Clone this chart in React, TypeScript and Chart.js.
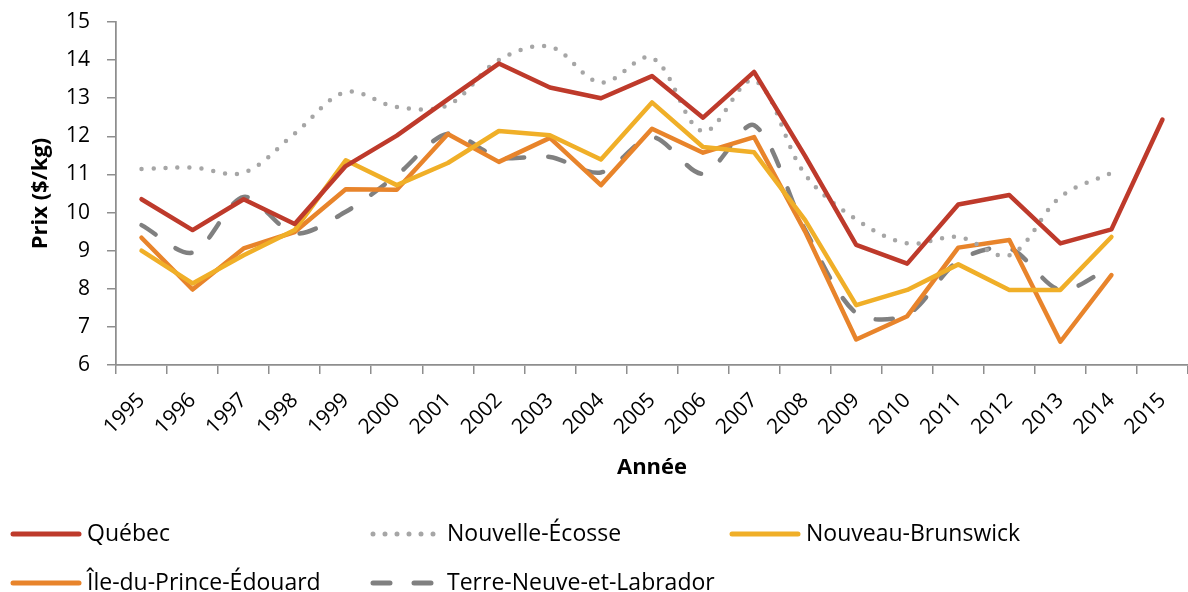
import React, { useEffect, useRef } from "react";
import { Chart, registerables } from "chart.js";

Chart.register(...registerables);

const years = ["1995", "1996", "1997", "1998", "1999", "2000", "2001", "2002", "2003", "2004", "2005", "2006", "2007", "2008", "2009", "2010", "2011", "2012", "2013", "2014", "2015"];

const quebec = [10.35, 9.54, 10.35, 9.7, 11.22, 12.02, 12.97, 13.91, 13.28, 13.0, 13.58, 12.49, 13.69, 11.48, 9.15, 8.66, 10.21, 10.46, 9.19, 9.56, 12.44];
const nouvelleEcosse = [11.14, 11.18, 11.05, 12.07, 13.16, 12.77, 12.82, 14.0, 14.35, 13.41, 14.06, 12.13, 13.47, 11.0, 9.82, 9.19, 9.36, 8.88, 10.41, 11.04, null];
const nouveauBrunswick = [9.0, 8.14, 8.88, 9.54, 11.37, 10.72, 11.3, 12.14, 12.03, 11.39, 12.89, 11.72, 11.58, 9.8, 7.57, 7.97, 8.64, 7.97, 7.97, 9.36, null];
const ilePrinceEdouard = [9.34, 7.98, 9.06, 9.49, 10.61, 10.6, 12.06, 11.33, 11.96, 10.72, 12.2, 11.57, 11.98, 9.5, 6.67, 7.28, 9.08, 9.28, 6.61, 8.36, null];
const terreNeuve = [9.67, 8.95, 10.41, 9.45, 10.02, 10.98, 12.07, 11.45, 11.46, 11.05, 11.98, 11.02, 12.29, 9.55, 7.36, 7.32, 8.73, 9.06, 7.97, 8.58, null];

const seriesNames = ["Québec", "Nouvelle-Écosse", "Nouveau-Brunswick", "Île-du-Prince-Édouard", "Terre-Neuve-et-Labrador"];
const yTitle = "Prix ($/kg)";
const xTitle = "Année";

const FONT = "'Open Sans', 'Noto Sans', sans-serif";

const legendPlugin = {
  id: "gridLegend",
  afterDraw(chart: any) {
    const ctx = chart.ctx;
    const cols = [11, 371, 730];
    const rows = [534, 583];
    chart.data.datasets.forEach((ds: any, i: number) => {
      const x = cols[i % 3];
      const y = rows[Math.floor(i / 3)];
      ctx.save();
      ctx.strokeStyle = ds.borderColor;
      ctx.lineWidth = 5;
      ctx.lineCap = "round";
      ctx.setLineDash(ds.borderDash || []);
      ctx.beginPath();
      ctx.moveTo(x + 2, y);
      ctx.lineTo(x + 68, y);
      ctx.stroke();
      ctx.setLineDash([]);
      ctx.fillStyle = "#000";
      ctx.font = `23px ${FONT}`;
      ctx.textBaseline = "middle";
      ctx.textAlign = "left";
      ctx.fillText(ds.label, x + 76, y);
      ctx.restore();
    });
  },
};

export default function App() {
  const ref = useRef<HTMLCanvasElement | null>(null);
  useEffect(() => {
    if (!ref.current) return;
    const common = { borderWidth: 4.5, pointRadius: 0, borderCapStyle: "round", borderJoinStyle: "round", fill: false, spanGaps: false };
    const chart = new Chart(ref.current, {
      type: "line",
      data: {
        labels: years,
        datasets: [
          { ...common, label: seriesNames[0], data: quebec, borderColor: "#BE3A2B", tension: 0 },
          { ...common, label: seriesNames[1], data: nouvelleEcosse, borderColor: "#A6A6A6", borderDash: [0, 12], tension: 0.35 },
          { ...common, label: seriesNames[2], data: nouveauBrunswick, borderColor: "#F0AF28", tension: 0 },
          { ...common, label: seriesNames[3], data: ilePrinceEdouard, borderColor: "#E8842B", tension: 0 },
          { ...common, label: seriesNames[4], data: terreNeuve, borderColor: "#808080", borderDash: [17, 24], tension: 0.3 },
        ] as any,
      },
      options: {
        animation: false,
        responsive: false,
        devicePixelRatio: 1,
        layout: { padding: { top: 22, bottom: 110, left: 0, right: 0 } },
        plugins: { legend: { display: false }, tooltip: { enabled: false } },
        scales: {
          x: {
            type: "category",
            offset: true,
            grid: { display: true, offset: true, drawOnChartArea: false, drawTicks: true, tickLength: 9, color: "#8E8E8E", lineWidth: 1.5 },
            border: { display: true, color: "#8E8E8E", width: 1.75 },
            ticks: { autoSkip: false, minRotation: 45, maxRotation: 45, padding: 14, color: "#000", font: { family: FONT, size: 21 } },
            title: { display: true, text: xTitle, color: "#000", font: { family: FONT, size: 22, weight: "bold" }, padding: { top: 0, bottom: 1 } },
            afterFit(scale: any) {
              scale.height = 117;
              scale.paddingLeft = 0;
              scale.paddingRight = 0;
            },
          },
          y: {
            min: 6,
            max: 15,
            grid: { display: true, drawOnChartArea: false, drawTicks: true, tickLength: 9, color: "#8E8E8E", lineWidth: 1.5 },
            border: { display: true, color: "#8E8E8E", width: 1.75 },
            ticks: { stepSize: 1, padding: 17, color: "#000", font: { family: FONT, size: 21 } },
            title: { display: true, text: yTitle, color: "#000", font: { family: FONT, size: 22, weight: "bold" }, padding: { top: 28, bottom: 0 } },
            afterFit(scale: any) {
              scale.width = 116;
              scale.paddingTop = 0;
              scale.paddingBottom = 0;
            },
          },
        },
      } as any,
      plugins: [legendPlugin],
    });
    return () => chart.destroy();
  }, []);
  return (
    <div style={{ position: "fixed", left: 0, top: 0, width: 1188, height: 592, background: "#fff" }}>
      <canvas ref={ref} width={1188} height={592} style={{ display: "block", width: 1188, height: 592 }} />
    </div>
  );
}
